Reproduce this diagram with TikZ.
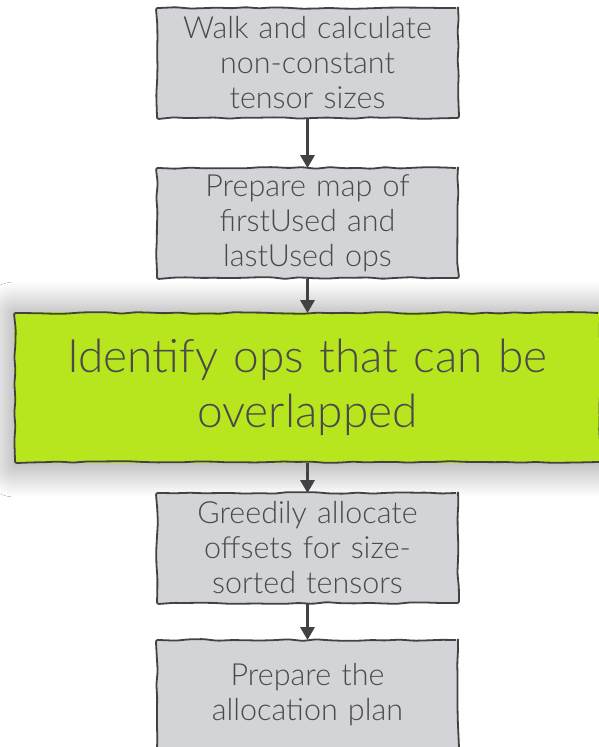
\documentclass[tikz,border=0pt]{standalone}
\usepackage{fontspec}
\setmainfont{Lato Light}
\usetikzlibrary{arrows.meta,decorations.pathmorphing,shadows.blur,backgrounds}
\definecolor{boxgray}{RGB}{211,212,215}
\definecolor{limegreen}{RGB}{184,230,30}
\definecolor{inkgray}{RGB}{66,66,68}
\definecolor{textgray}{RGB}{74,74,76}
\tikzset{
  sketch/.style={draw=inkgray, line width=1.8pt,
    decoration={random steps, segment length=14pt, amplitude=0.9pt},
    decorate, rounded corners=2pt},
  stepbox/.style={sketch, fill=boxgray, minimum width=301pt, minimum height=110pt,
    text width=295pt, align=center, font=\fontsize{30.5}{35}\selectfont, text=textgray,
    inner sep=0pt},
  keybox/.style={sketch, fill=limegreen, minimum width=585pt, minimum height=149pt,
    text width=570pt, align=center, font=\fontsize{46}{55}\selectfont, text=textgray,
    inner sep=0pt},
  haze/.style={fill=limegreen, draw=none,
    blur shadow={shadow xshift=0pt, shadow yshift=-2pt, shadow blur radius=32pt,
      shadow opacity=45, shadow blur steps=30}},
  flow/.style={draw=inkgray, line width=3pt,
    -{Triangle[width=14pt,length=13pt]}, shorten >=-1pt}
}
\begin{document}
\begin{tikzpicture}[x=1pt,y=1pt]
  \pgfmathsetseed{11}
  \useasboundingbox (0,0) rectangle (598,747);

  \node[stepbox] (walk)  at (307.5,684) {Walk and calculate\\non-constant\\tensor sizes};
  \node[stepbox] (map)   at (307.5,524) {Prepare map of\\firstUsed and\\lastUsed ops};
  \node[keybox]  (ident) at (307.5,359.5) {Identify ops that can be\\overlapped};
  \node[stepbox] (greedy) at (307.5,199) {Greedily allocate\\offsets for size-\\sorted tensors};
  \node[stepbox] (plan)  at (307.5,52) {Prepare the\\allocation plan};

  \draw[flow] (walk.south) -- (map.north);
  \draw[flow] (map.south) -- (ident.north);
  \draw[flow] (ident.south) -- (greedy.north);
  \draw[flow] (greedy.south) -- (plan.north);

  % page ground and the soft halo behind the highlighted step
  \begin{scope}[on background layer]
    \fill[white] (0,0) rectangle (598,747);
    \path[haze] (ident.south west) rectangle (ident.north east);
  \end{scope}
\end{tikzpicture}
\end{document}
